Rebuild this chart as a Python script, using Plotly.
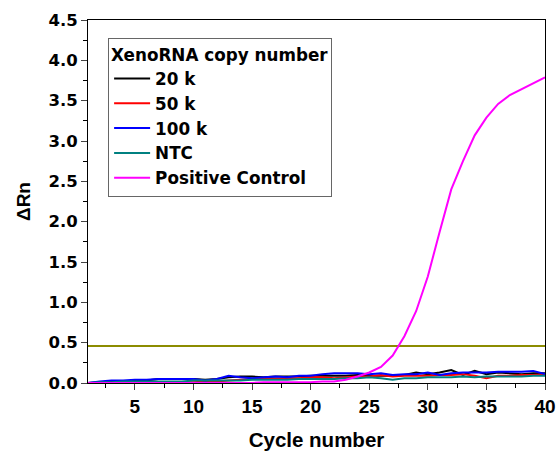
import plotly.graph_objects as go

cycles = list(range(1, 41))

k20 = [0.00, 0.01, 0.02, 0.02, 0.03, 0.03, 0.05, 0.05, 0.05, 0.05,
       0.04, 0.05, 0.07, 0.08, 0.08, 0.07, 0.08, 0.08, 0.08, 0.09,
       0.09, 0.09, 0.09, 0.10, 0.09, 0.09, 0.09, 0.10, 0.13, 0.11,
       0.13, 0.16, 0.10, 0.15, 0.11, 0.13, 0.12, 0.11, 0.12, 0.12]
k50 = [0.00, 0.00, 0.00, 0.01, 0.01, 0.01, 0.01, 0.01, 0.01, 0.01,
       0.02, 0.02, 0.03, 0.04, 0.05, 0.05, 0.05, 0.06, 0.06, 0.07,
       0.07, 0.06, 0.07, 0.08, 0.08, 0.10, 0.08, 0.09, 0.09, 0.09,
       0.10, 0.10, 0.11, 0.09, 0.06, 0.09, 0.09, 0.10, 0.10, 0.11]
k100 = [0.00, 0.02, 0.03, 0.03, 0.04, 0.04, 0.05, 0.05, 0.05, 0.05,
        0.03, 0.05, 0.09, 0.07, 0.06, 0.07, 0.08, 0.07, 0.09, 0.09,
        0.11, 0.12, 0.12, 0.12, 0.11, 0.12, 0.10, 0.11, 0.11, 0.13,
        0.10, 0.12, 0.13, 0.13, 0.13, 0.14, 0.14, 0.14, 0.15, 0.11]
ntc = [0.00, 0.01, 0.01, 0.02, 0.02, 0.02, 0.02, 0.02, 0.02, 0.03,
       0.03, 0.03, 0.03, 0.03, 0.04, 0.04, 0.04, 0.04, 0.05, 0.05,
       0.05, 0.05, 0.06, 0.06, 0.07, 0.06, 0.04, 0.06, 0.06, 0.07,
       0.07, 0.07, 0.08, 0.07, 0.08, 0.08, 0.08, 0.08, 0.09, 0.09]
positive = [0.00, 0.00, 0.00, 0.00, 0.00, 0.00, 0.00, 0.00, 0.00, 0.00,
            0.00, 0.00, 0.00, 0.00, 0.00, 0.01, 0.01, 0.01, 0.01, 0.01,
            0.02, 0.02, 0.04, 0.08, 0.13, 0.20, 0.34, 0.58, 0.89, 1.32,
            1.87, 2.40, 2.75, 3.07, 3.29, 3.46, 3.57, 3.64, 3.71, 3.79]
threshold = 0.46

series_names = ["20 k", "50 k", "100 k", "NTC", "Positive Control"]
series_values = [k20, k50, k100, ntc, positive]
series_colors = ["#000000", "#ff0000", "#0000ff", "#008080", "#ff00ff"]

ARIAL = "Liberation Sans, Arial, sans-serif"
WIDE = "DejaVu Sans, Verdana, sans-serif"

fig = go.Figure()
fig.add_trace(go.Scatter(x=[cycles[0], cycles[-1]], y=[threshold, threshold],
                         mode="lines", line=dict(color="#8c8c00", width=2),
                         showlegend=False, hoverinfo="skip"))
for name, vals, col in zip(series_names, series_values, series_colors):
    fig.add_trace(go.Scatter(x=cycles, y=vals, mode="lines", name=name,
                             line=dict(color=col, width=2)))

fig.update_layout(
    width=556, height=452,
    margin=dict(l=88, r=11, t=20, b=69),
    plot_bgcolor="white", paper_bgcolor="white",
    font=dict(family=ARIAL, color="black", size=16, weight="bold"),
    legend=dict(
        title=dict(text="XenoRNA copy number", font=dict(family=WIDE, size=16.8, weight="bold")),
        x=0.044, y=0.95, xanchor="left", yanchor="top",
        bordercolor="#666666", borderwidth=1, bgcolor="white",
        font=dict(family=WIDE, size=16.8, weight="bold"), tracegroupgap=0,
        itemwidth=36,
    ),
    xaxis=dict(
        range=[1, 40], tick0=0, dtick=5, ticks="outside", ticklen=6, tickwidth=1,
        showline=True, linecolor="black", linewidth=1, mirror=True,
        showgrid=False, zeroline=False, automargin=False,
        tickfont=dict(family=ARIAL, size=19, weight="bold"),
        minor=dict(dtick=2.5, tick0=0, ticks="outside", ticklen=4, tickcolor="black", showgrid=False),
        title=dict(text="Cycle number", font=dict(family=ARIAL, size=20.5, weight="bold"), standoff=16),
    ),
    yaxis=dict(
        range=[0, 4.5], tick0=0, dtick=0.5, tickformat=".1f", ticks="outside", ticklen=6, tickwidth=1,
        showline=True, linecolor="black", linewidth=1, mirror=True,
        showgrid=False, zeroline=False, automargin=False,
        tickfont=dict(family=WIDE, size=16.5, weight="bold"),
        minor=dict(dtick=0.25, tick0=0, ticks="outside", ticklen=4, tickcolor="black", showgrid=False),
        title=dict(text="ΔRn", font=dict(family=ARIAL, size=19, weight="bold"), standoff=12),
    ),
)

fig.write_html("out.html")
